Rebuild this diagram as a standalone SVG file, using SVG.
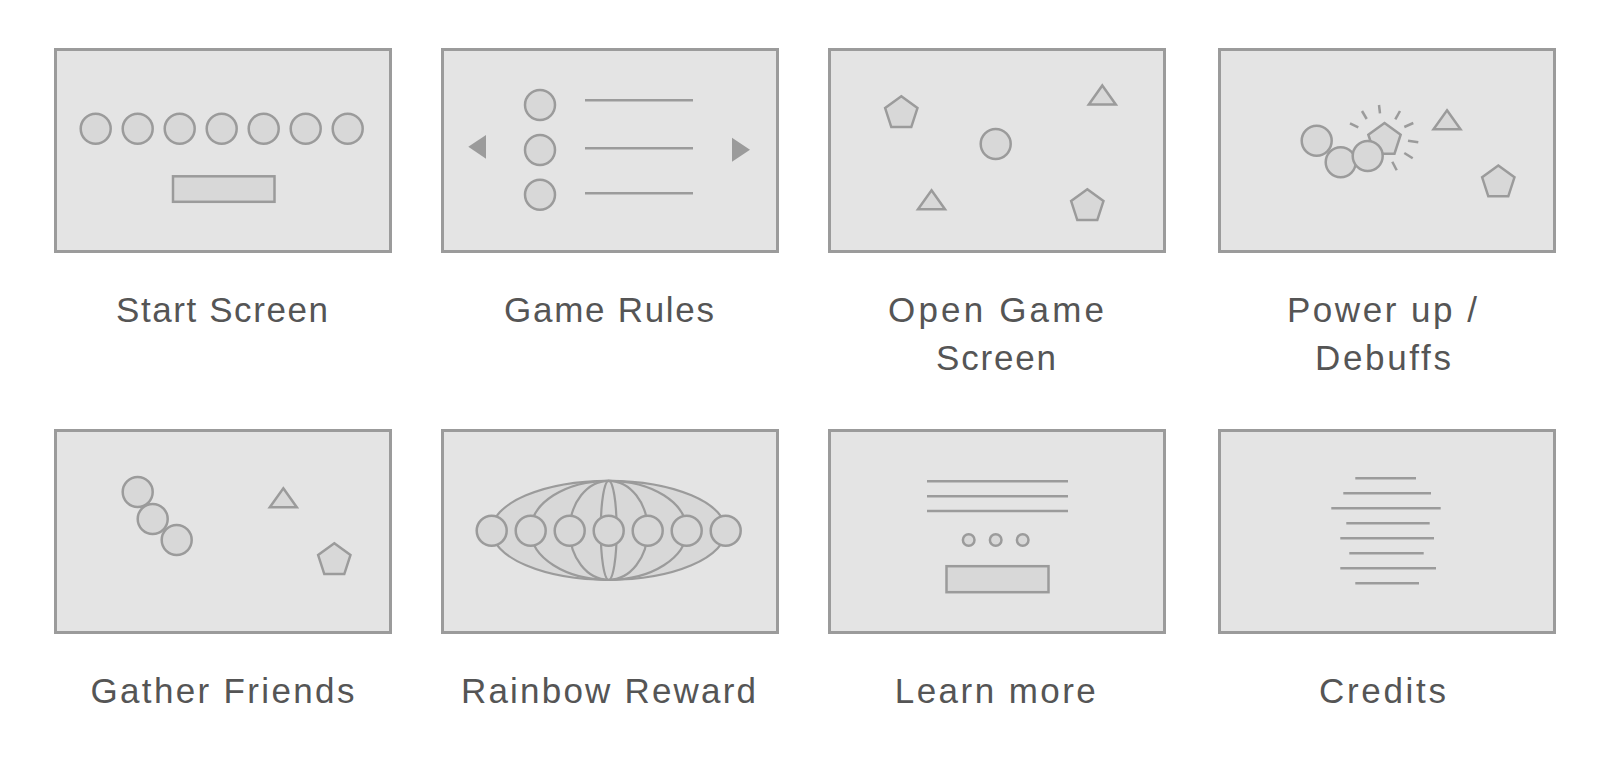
<svg xmlns="http://www.w3.org/2000/svg" xmlns:xlink="http://www.w3.org/1999/xlink" width="1611" height="762" viewBox="0 0 1611 762">
<style>
.screen{fill:#e4e4e4;stroke:#9b9b9b;stroke-width:3}
.sh{fill:#d8d8d8;stroke:#9b9b9b;stroke-width:2.5}
.ln{stroke:#9b9b9b;stroke-width:2.5;fill:none}
.gl{fill:#d8d8d8;stroke:#9b9b9b;stroke-width:2.2}
.arr{fill:#9b9b9b}
.lbl{font-family:"Liberation Sans","Lato",sans-serif;font-size:35px;fill:#555;text-anchor:middle}
</style>
<defs>
<polygon id="pent" class="sh" points="0,-17 16.17,-5.25 9.99,13.75 -9.99,13.75 -16.17,-5.25"/>
<polygon id="tri" class="sh" points="0,0 13.5,19 -13.5,19"/>
</defs>
<rect width="1611" height="762" fill="#ffffff"/>

<g id="start-screen">
<rect class="screen" x="55.5" y="49.5" width="335" height="202"/>
<circle class="sh" cx="95.7" cy="128.7" r="15"/>
<circle class="sh" cx="137.7" cy="128.7" r="15"/>
<circle class="sh" cx="179.7" cy="128.7" r="15"/>
<circle class="sh" cx="221.7" cy="128.7" r="15"/>
<circle class="sh" cx="263.7" cy="128.7" r="15"/>
<circle class="sh" cx="305.7" cy="128.7" r="15"/>
<circle class="sh" cx="347.7" cy="128.7" r="15"/>
<rect class="sh" x="173" y="176.3" width="101.5" height="25.5"/>
<text class="lbl" x="222" y="322" textLength="212">Start Screen</text>
</g>

<g id="game-rules">
<rect class="screen" x="442.5" y="49.5" width="335" height="202"/>
<polygon class="arr" points="468.3,146.7 486,135 486,158.7"/>
<polygon class="arr" points="732,137.7 750,149.7 732,161.7"/>
<circle class="sh" cx="540" cy="105" r="15"/>
<circle class="sh" cx="540" cy="150" r="15"/>
<circle class="sh" cx="540" cy="194.7" r="15"/>
<line class="ln" x1="585" y1="100.3" x2="693" y2="100.3"/>
<line class="ln" x1="585" y1="148.3" x2="693" y2="148.3"/>
<line class="ln" x1="585" y1="193.3" x2="693" y2="193.3"/>
<text class="lbl" x="609" y="322" textLength="210">Game Rules</text>
</g>

<g id="open-game-screen">
<rect class="screen" x="829.5" y="49.5" width="335" height="202"/>
<use xlink:href="#pent" x="901.3" y="113.3"/>
<use xlink:href="#tri" x="1102.3" y="85.5"/>
<circle class="sh" cx="995.7" cy="144" r="15"/>
<use xlink:href="#tri" x="931.5" y="190.3"/>
<use xlink:href="#pent" x="1087.3" y="206.3"/>
<text class="lbl" x="996" y="322" textLength="216">Open Game</text>
<text class="lbl" x="996" y="370" textLength="120">Screen</text>
</g>

<g id="power-up-debuffs">
<rect class="screen" x="1219.5" y="49.5" width="335" height="202"/>
<g class="ln">
<line x1="1350" y1="123.3" x2="1358.3" y2="127.3"/>
<line x1="1362" y1="111" x2="1366.7" y2="119"/>
<line x1="1379" y1="105" x2="1380" y2="113.3"/>
<line x1="1400" y1="111" x2="1395.3" y2="119.3"/>
<line x1="1413.3" y1="123" x2="1404.3" y2="127"/>
<line x1="1418.3" y1="142.3" x2="1408" y2="140.7"/>
<line x1="1412.7" y1="158.3" x2="1404.3" y2="153"/>
<line x1="1396.7" y1="170.3" x2="1392.3" y2="161.7"/>
</g>
<use xlink:href="#pent" x="1384.5" y="140"/>
<circle class="sh" cx="1316.7" cy="140.7" r="15"/>
<circle class="sh" cx="1340.7" cy="162.3" r="15"/>
<circle class="sh" cx="1367.7" cy="156" r="15"/>
<use xlink:href="#tri" x="1447" y="110.3"/>
<use xlink:href="#pent" x="1498.3" y="182.6"/>
<text class="lbl" x="1382" y="322" textLength="190">Power up /</text>
<text class="lbl" x="1383" y="370" textLength="136">Debuffs</text>
</g>

<g id="gather-friends">
<rect class="screen" x="55.5" y="430.5" width="335" height="202"/>
<circle class="sh" cx="137.7" cy="492" r="15"/>
<circle class="sh" cx="152.7" cy="519" r="15"/>
<circle class="sh" cx="176.7" cy="540" r="15"/>
<use xlink:href="#tri" x="283.3" y="488.3"/>
<use xlink:href="#pent" x="334.3" y="560.3"/>
<text class="lbl" x="222.4" y="703" textLength="264">Gather Friends</text>
</g>

<g id="rainbow-reward">
<rect class="screen" x="442.5" y="430.5" width="335" height="202"/>
<ellipse class="gl" cx="608.7" cy="530.3" rx="117" ry="49.5"/>
<ellipse class="gl" cx="608.7" cy="530.3" rx="78" ry="49.5"/>
<ellipse class="gl" cx="608.7" cy="530.3" rx="39" ry="49.5"/>
<ellipse class="gl" cx="608.7" cy="530.3" rx="8" ry="49.5"/>
<circle class="sh" cx="491.7" cy="530.7" r="15"/>
<circle class="sh" cx="530.7" cy="530.7" r="15"/>
<circle class="sh" cx="569.7" cy="530.7" r="15"/>
<circle class="sh" cx="608.7" cy="530.7" r="15"/>
<circle class="sh" cx="647.7" cy="530.7" r="15"/>
<circle class="sh" cx="686.7" cy="530.7" r="15"/>
<circle class="sh" cx="725.7" cy="530.7" r="15"/>
<text class="lbl" x="608.5" y="703" textLength="295">Rainbow Reward</text>
</g>

<g id="learn-more">
<rect class="screen" x="829.5" y="430.5" width="335" height="202"/>
<line class="ln" x1="927" y1="481.3" x2="1068" y2="481.3"/>
<line class="ln" x1="927" y1="496.3" x2="1068" y2="496.3"/>
<line class="ln" x1="927" y1="511" x2="1068" y2="511"/>
<circle class="sh" cx="968.7" cy="540" r="5.8"/>
<circle class="sh" cx="995.7" cy="540" r="5.8"/>
<circle class="sh" cx="1022.7" cy="540" r="5.8"/>
<rect class="sh" x="946.5" y="566.2" width="102" height="26"/>
<text class="lbl" x="995.3" y="703" textLength="201">Learn more</text>
</g>

<g id="credits">
<rect class="screen" x="1219.5" y="430.5" width="335" height="202"/>
<g class="ln">
<line x1="1355.3" y1="478.3" x2="1416" y2="478.3"/>
<line x1="1343.3" y1="493.3" x2="1431" y2="493.3"/>
<line x1="1331.3" y1="508.3" x2="1440.7" y2="508.3"/>
<line x1="1346.3" y1="523.3" x2="1429.7" y2="523.3"/>
<line x1="1340.3" y1="538.3" x2="1434" y2="538.3"/>
<line x1="1349.3" y1="553.3" x2="1423.7" y2="553.3"/>
<line x1="1340.3" y1="568.3" x2="1436" y2="568.3"/>
<line x1="1355.3" y1="583.3" x2="1419" y2="583.3"/>
</g>
<text class="lbl" x="1382.5" y="703" textLength="127">Credits</text>
</g>

<g id="connectors"/>
</svg>
